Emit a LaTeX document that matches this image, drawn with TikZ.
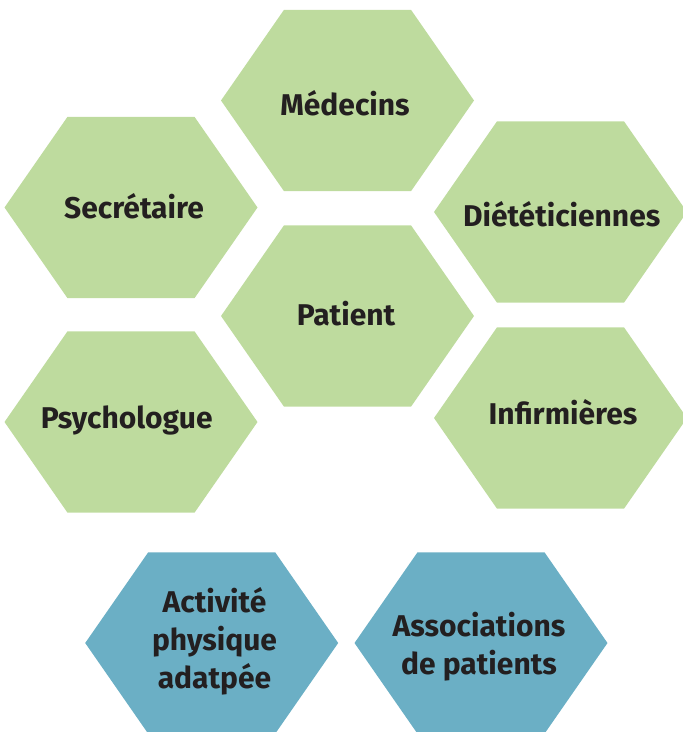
\documentclass[tikz,border=0pt]{standalone}
\usepackage{fontspec}
\setmainfont{Fira Sans}
\definecolor{hgreen}{RGB}{190,219,158}
\definecolor{hblue}{RGB}{107,175,197}
\definecolor{txt}{RGB}{35,31,32}
\tikzset{
  hex/.pic={\path[pic actions] (-126.5,0) -- (-63.5,-90.7) -- (63.5,-90.7) -- (126.5,0) -- (63.5,90.7) -- (-63.5,90.7) -- cycle;},
  lbl/.style={text=txt, font=\fontsize{30}{38}\selectfont\bfseries, align=center, inner sep=0pt}
}
\begin{document}
\begin{tikzpicture}[x=1pt,y=-1pt]
\useasboundingbox (0,0) rectangle (683,732);
\pic[fill=hgreen] at (347.5,100.5) {hex};
\pic[fill=hgreen] at (131,207.5) {hex};
\pic[fill=hgreen] at (560.5,212) {hex};
\pic[fill=hgreen] at (347.5,316) {hex};
\pic[fill=hgreen] at (131,422) {hex};
\pic[fill=hgreen] at (560.5,418) {hex};
\pic[fill=hblue] at (211.7,643) {hex};
\pic[fill=hblue] at (481,643) {hex};
\node[lbl] (med) at (345,103) {Médecins};
\node[lbl] (sec) at (134,206) {Secrétaire};
\node[lbl] (die) at (561.7,214) {Diététiciennes};
\node[lbl] (pat) at (346,314) {Patient};
\node[lbl] (psy) at (126.7,420) {Psychologue};
\node[lbl] (inf) at (563,412.5) {Infirmières};
\node[lbl] (apa) at (214.5,641) {Activité\\physique\\adatpée};
\node[lbl] (ass) at (479,647) {Associations\\de patients};
\end{tikzpicture}
\end{document}
